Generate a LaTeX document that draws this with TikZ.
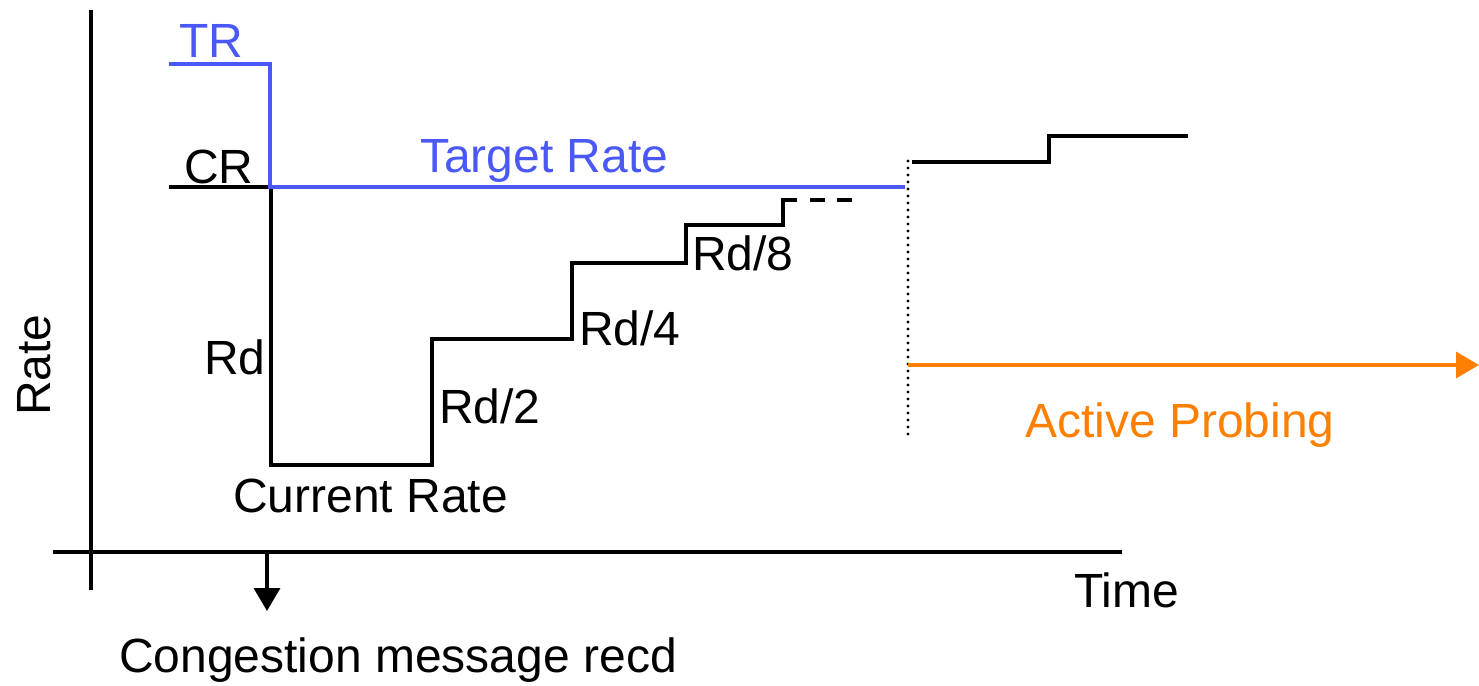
\documentclass[tikz,border=0pt]{standalone}
\usepackage{fontspec}
\setmainfont{Liberation Sans}
\usetikzlibrary{arrows.meta}
\definecolor{trblue}{RGB}{74,88,245}
\definecolor{aporange}{RGB}{255,128,0}
\begin{document}
\begin{tikzpicture}[x=1pt,y=-1pt,
  lbl/.style={anchor=base west,inner sep=0pt,font=\fontsize{48}{57}\selectfont},
  axisline/.style={line width=3.6pt},
  rateline/.style={line width=3.4pt,line join=miter},
  blueline/.style={rateline,draw=trblue},
  probearrow/.style={line width=3.4pt,draw=aporange,-{Triangle[length=23pt,width=26pt]}},
  eventarrow/.style={line width=3.4pt,-{Triangle[length=23pt,width=26pt]}},
  sepline/.style={line width=3.4pt,line cap=round,dash pattern=on 0pt off 7pt}]
\useasboundingbox (0,0) rectangle (1479,685);
% axes
\coordinate (ytop) at (91,10);
\coordinate (ybot) at (91,590);
\coordinate (xl) at (53,552);
\coordinate (xr) at (1122,552);
\draw[axisline] (ytop) -- (ybot);
\draw[axisline] (xl) -- (xr);
% congestion event
\coordinate (evs) at (267,552);
\coordinate (eve) at (267,611);
\draw[eventarrow] (evs) -- (eve);
% TR blue
\coordinate (tr0) at (169,64);
\coordinate (tr1) at (270,64);
\coordinate (tr2) at (270,187);
\coordinate (tr3) at (905,187);
% CR black
\coordinate (cr0) at (169,187);
\coordinate (c1) at (271,187);
\coordinate (c2) at (271,465);
\coordinate (c3) at (432,465);
\coordinate (c4) at (432,339);
\coordinate (c5) at (572,339);
\coordinate (c6) at (572,263);
\coordinate (c7) at (686,263);
\coordinate (c8) at (686,225);
\coordinate (c9) at (783,225);
\coordinate (c10) at (783,200);
\coordinate (c11) at (797,200);
\coordinate (d1) at (810,200);
\coordinate (d2) at (825,200);
\coordinate (d3) at (837,200);
\coordinate (d4) at (852,200);
\draw[rateline] (cr0) -- (c1) -- (c2) -- (c3) -- (c4) -- (c5) -- (c6) -- (c7) -- (c8) -- (c9) -- (c10) -- (c11);
\draw[rateline] (d1) -- (d2);
\draw[rateline] (d3) -- (d4);
\draw[blueline] (tr0) -- (tr1) -- (tr2) -- (tr3);
% separator
\coordinate (sp0) at (908,161);
\coordinate (sp1) at (908,441);
\draw[sepline] (sp0) -- (sp1);
% later rate
\coordinate (p0) at (912,162);
\coordinate (p1) at (1049,162);
\coordinate (p2) at (1049,136);
\coordinate (p3) at (1188,136);
\draw[rateline] (p0) -- (p1) -- (p2) -- (p3);
% active probing arrow
\coordinate (ap0) at (908,365);
\coordinate (ap1) at (1479,365);
\draw[probearrow] (ap0) -- (ap1);
% labels
\node[lbl,text=trblue] (tTR) at (179,57) {TR};
\node[lbl] (tCR) at (184,183) {CR};
\node[lbl,text=trblue] (tTarget) at (420,172) {Target Rate};
\node[lbl] (tRd) at (204,374) {Rd};
\node[lbl] (tRd2) at (439,423) {Rd/2};
\node[lbl] (tRd4) at (579,345) {Rd/4};
\node[lbl] (tRd8) at (692,270) {Rd/8};
\node[lbl] (tCur) at (233,512) {Current Rate};
\node[lbl] (tTime) at (1074,607) {Time};
\node[lbl] (tCong) at (119,672) {Congestion message recd};
\node[lbl,text=aporange] (tAP) at (1025,437) {Active Probing};
\node[lbl,rotate=90] (tRate) at (50,416) {Rate};
\end{tikzpicture}
\end{document}
